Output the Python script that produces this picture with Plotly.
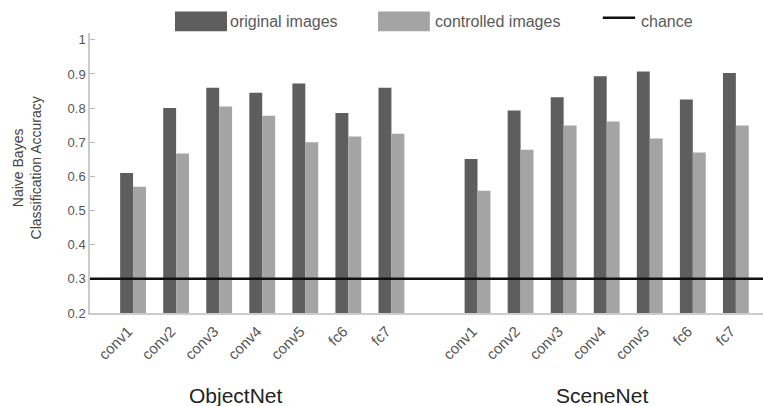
import plotly.graph_objects as go

# Layers probed in each network
layers = ["conv1", "conv2", "conv3", "conv4", "conv5", "fc6", "fc7"]
networks = ["ObjectNet", "SceneNet"]

# Naive Bayes classification accuracy per layer
objectnet_original = [0.61, 0.80, 0.86, 0.845, 0.872, 0.786, 0.86]
objectnet_controlled = [0.57, 0.667, 0.805, 0.778, 0.70, 0.717, 0.725]
scenenet_original = [0.651, 0.793, 0.832, 0.893, 0.907, 0.825, 0.903]
scenenet_controlled = [0.558, 0.678, 0.749, 0.761, 0.711, 0.670, 0.749]

chance_level = 0.3
y_ticks = [0.2, 0.3, 0.4, 0.5, 0.6, 0.7, 0.8, 0.9, 1.0]

DARK = "#5e5e5e"
LIGHT = "#a4a4a4"
FONT = "Liberation Sans, Arial, sans-serif"

# ObjectNet occupies slots 0-6, one empty slot, SceneNet occupies 8-14
obj_x = list(range(len(layers)))
scene_x = [len(layers) + 1 + i for i in range(len(layers))]
all_x = obj_x + scene_x

fig = go.Figure()
fig.add_trace(go.Bar(
    x=all_x, y=objectnet_original + scenenet_original,
    name="original images", marker=dict(color=DARK, line=dict(width=0)),
    base=0, offsetgroup="orig",
))
fig.add_trace(go.Bar(
    x=all_x, y=objectnet_controlled + scenenet_controlled,
    name="controlled images", marker=dict(color=LIGHT, line=dict(width=0)),
    base=0, offsetgroup="ctrl",
))

# chance line across the whole plot
fig.add_shape(type="line", xref="paper", yref="y", x0=0, x1=1,
              y0=chance_level, y1=chance_level,
              line=dict(color="#111111", width=2.5))

# legend drawn as swatches + labels above the plot
fig.add_shape(type="rect", xref="paper", yref="paper",
              x0=0.1263, x1=0.2036, y0=1.006, y1=1.077,
              fillcolor=DARK, line=dict(width=0))
fig.add_shape(type="rect", xref="paper", yref="paper",
              x0=0.428, x1=0.505, y0=1.006, y1=1.077,
              fillcolor=LIGHT, line=dict(width=0))
fig.add_shape(type="line", xref="paper", yref="paper",
              x0=0.762, x1=0.810, y0=1.0546, y1=1.0546,
              line=dict(color="#111111", width=2.5))
legend_items = [("original images", 0.205), ("controlled images", 0.5097), ("chance", 0.8157)]
for text, xpos in legend_items:
    fig.add_annotation(text=text, xref="paper", yref="paper", x=xpos, y=1.042,
                       xanchor="left", yanchor="middle", showarrow=False,
                       font=dict(size=16, color="#5a5a5a", family=FONT))

# network names under each group
for name, xpos in zip(networks, [0.217, 0.761]):
    fig.add_annotation(text=name, xref="paper", yref="paper", x=xpos, y=-0.293,
                       xanchor="center", yanchor="middle", showarrow=False,
                       font=dict(size=21, color="#222222", family=FONT))

# y-axis title
fig.add_annotation(text="Naive Bayes<br>Classification Accuracy",
                   xref="paper", yref="paper", x=-0.0944, y=0.518,
                   xanchor="center", yanchor="middle", textangle=-90,
                   showarrow=False,
                   font=dict(size=14, color="#444444", family=FONT))

fig.update_layout(
    width=763, height=406,
    margin=dict(l=90, r=0, t=33, b=92.6),
    paper_bgcolor="white", plot_bgcolor="white",
    barmode="group", bargap=0.4, bargroupgap=0,
    showlegend=False,
    font=dict(family=FONT),
)
fig.update_xaxes(
    range=[-1, 14.63],
    tickmode="array", tickvals=all_x, ticktext=layers + layers,
    tickangle=-45, tickfont=dict(size=15, color="#555555"),
    ticklabelshift=-5, ticklabelstandoff=2,
    showgrid=False, zeroline=False,
    showline=True, linecolor="#cccccc", linewidth=1.5,
    ticks="",
)
fig.update_yaxes(
    range=[0.2, 1.02],
    tickmode="array", tickvals=y_ticks,
    ticktext=["0.2", "0.3", "0.4", "0.5", "0.6", "0.7", "0.8", "0.9", "1"],
    tickfont=dict(size=13, color="#555555"),
    ticks="inside", ticklen=5, tickcolor="#bbbbbb",
    showgrid=False, zeroline=False,
    showline=True, linecolor="#cccccc", linewidth=1.5,
)

fig.write_html("out.html")
